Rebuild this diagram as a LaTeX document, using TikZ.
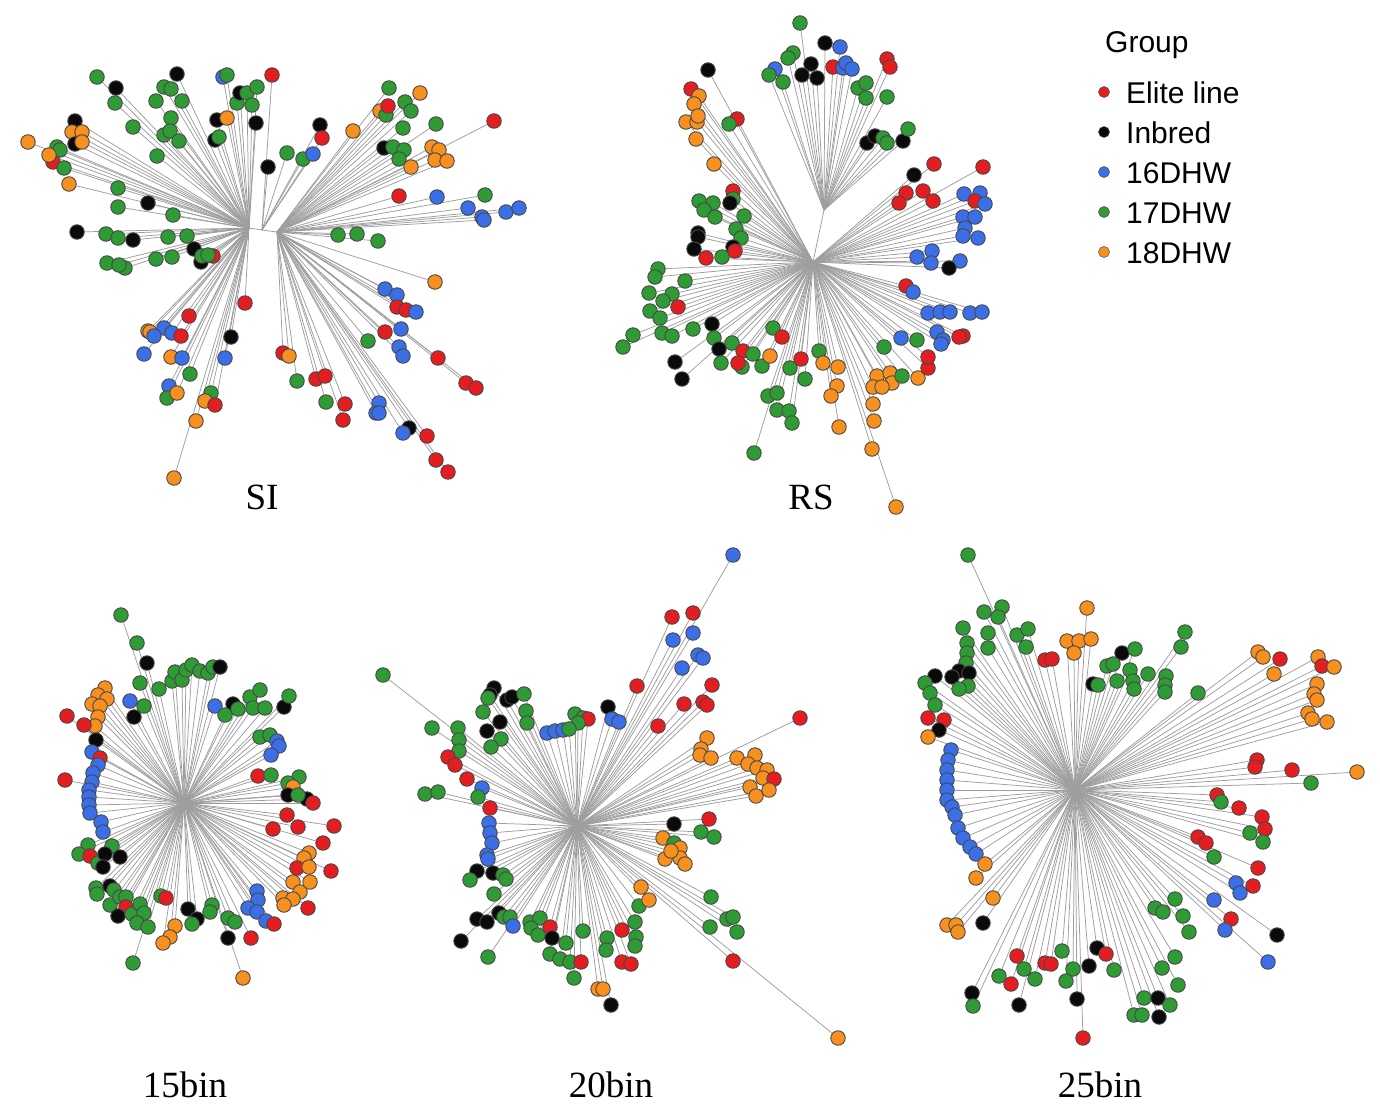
\documentclass[tikz,border=0pt]{standalone}
\usepackage{fontspec}
\setmainfont{Liberation Serif}
\newfontfamily\legfont{Liberation Sans}
\definecolor{cR}{HTML}{E41E20}
\definecolor{cK}{HTML}{0A0A0A}
\definecolor{cB}{HTML}{3A6FE8}
\definecolor{cG}{HTML}{2E9B34}
\definecolor{cO}{HTML}{F7901F}
\pgfdeclarelayer{bg}
\pgfsetlayers{bg,main}
\tikzset{
  leaf/.style={circle, draw=black!72, line width=0.9pt, fill=#1, minimum size=14.5pt, inner sep=0pt},
  legdot/.style={circle, draw=black!70, line width=0.5pt, fill=#1, minimum size=11pt, inner sep=0pt},
  branch/.style={draw=black!38, line width=0.75pt},
  lab/.style={font=\fontsize{37}{40}\selectfont, inner sep=0pt},
  legtxt/.style={font=\legfont\fontsize{30}{34}\selectfont, inner sep=0pt, anchor=base west}
}
\newcommand\leafset[3]{%
  \foreach \x/\y/\c [count=\i] in #3 {%
    \node[leaf=c\c] (#2\i) at (\x,\y) {};
  }
  \begin{pgfonlayer}{bg}
  \foreach \x/\y/\c [count=\i] in #3 {%
    \draw[branch] (#1) -- (#2\i);
  }
  \end{pgfonlayer}}
% ---------------- SI
\def\SIL{97/77/G, 116/88/K, 115/103/G, 177/74/K, 164/87/G, 171/89/G, 156/101/G, 182/101/G, 133/127/G, 171/118/G, 164/135/G, 170/131/G, 179/141/G, 157/156/G, 223/77/B, 227/75/G, 237/103/G, 240/93/K, 247/93/G, 257/87/G, 252/105/G, 217/120/K, 227/118/O, 256/123/K, 215/140/K, 219/137/G, 75/121/K, 72/132/O, 82/132/O, 75/144/K, 82/142/O, 28/142/O, 57/147/G, 60/150/G, 53/162/R, 49/155/O, 64/168/G, 69/184/O, 118/188/G, 118/207/G, 148/203/K, 173/215/G, 77/232/K, 106/234/G, 118/238/G, 133/240/K, 168/237/G, 187/236/G, 194/249/K, 201/262/K, 202/256/G, 213/256/R, 208/255/G, 107/263/G, 125/268/G, 119/265/G, 156/259/G, 172/257/G, 245/303/R, 189/316/R, 148/331/O, 150/332/O, 164/328/B, 172/333/B, 154/336/B, 181/336/R, 231/337/K, 144/354/B, 171/357/O, 182/358/B, 225/358/B, 190/374/G, 169/386/B, 167/398/G, 177/393/O, 211/393/G, 205/401/O, 215/405/R, 196/421/O, 174/478/O}
\def\SIM{272/75/R, 268/167/K, 287/153/G, 303/159/G, 313/154/B, 320/125/K, 322/138/R}
\def\SIR{389/88/G, 420/93/O, 405/102/G, 411/111/G, 380/111/O, 386/115/G, 388/106/R, 353/131/O, 403/128/G, 436/124/G, 494/121/R, 384/148/K, 393/147/G, 404/150/G, 399/159/G, 411/167/O, 432/147/O, 439/150/O, 435/160/O, 447/161/O, 399/196/R, 437/197/B, 485/195/G, 468/208/B, 482/217/B, 484/220/B, 506/212/B, 519/208/B, 338/235/G, 357/234/G, 378/241/G, 435/282/O, 385/289/B, 397/295/B, 397/307/R, 406/310/R, 416/312/B, 385/332/R, 401/329/B, 368/341/G, 399/347/B, 403/356/B, 438/358/R, 466/383/R, 476/388/R, 283/353/R, 289/356/O, 297/381/G, 316/379/R, 325/376/R, 326/402/G, 345/404/R, 343/420/R, 379/403/B, 376/413/B, 379/413/B, 409/428/K, 403/433/B, 427/436/R, 436/460/R, 448/472/R}
% ---------------- RS
\def\RST{800/23/G, 825/43/K, 840/47/B, 793/53/G, 788/58/G, 775/69/B, 769/75/G, 783/82/G, 811/64/K, 802/75/K, 817/78/K, 833/67/R, 843/68/B, 846/63/B, 852/69/B, 887/59/R, 890/67/R, 858/88/G, 866/83/G, 866/98/G, 887/97/G, 867/143/K, 875/136/K, 883/138/G, 887/143/G, 903/141/K, 908/129/G}
\def\RSC{708/70/K, 691/89/R, 699/96/O, 694/104/O, 686/122/O, 697/122/O, 698/116/O, 737/119/R, 729/124/G, 696/139/O, 714/164/O, 934/164/R, 914/175/K, 983/167/R, 906/193/R, 899/203/R, 923/191/R, 933/201/R, 964/194/B, 980/193/B, 975/201/R, 985/204/B, 963/217/B, 975/217/B, 965/228/B, 963/236/B, 978/238/B, 917/257/B, 932/251/B, 931/263/B, 960/261/B, 949/268/K, 733/191/R, 733/199/G, 730/203/K, 699/201/G, 713/203/G, 704/210/G, 715/217/G, 744/216/G, 736/229/G, 741/238/G, 698/233/K, 698/237/K, 694/249/K, 733/247/K, 735/251/R, 722/257/G, 706/258/R, 658/269/G, 655/277/G, 685/281/G, 649/293/G, 672/294/G, 663/301/G, 678/307/R, 650/311/G, 660/318/G, 633/335/G, 623/347/G, 662/333/G, 672/336/G, 693/329/G, 712/324/K, 714/338/G, 732/343/G, 719/349/K, 675/362/K, 682/379/K, 721/363/G, 743/351/R, 742/367/G, 738/363/R, 753/354/G, 762/366/G, 770/356/O, 773/328/G, 782/337/R, 790/368/G, 801/359/R, 805/379/G, 819/351/G, 823/363/O, 838/367/O, 837/386/O, 831/396/O, 839/427/O, 768/396/G, 777/393/G, 777/410/G, 789/411/G, 792/423/G, 754/453/G, 884/347/G, 877/376/O, 890/373/O, 873/387/O, 892/383/O, 882/387/O, 902/376/G, 918/378/O, 928/368/R, 928/357/R, 917/340/G, 901/338/B, 937/332/B, 943/340/B, 941/344/B, 963/336/R, 959/337/R, 928/313/B, 940/312/B, 950/312/B, 970/313/B, 982/312/B, 906/286/R, 913/292/B, 873/404/O, 874/421/O, 872/449/O, 896/507/O}
% ---------------- 15bin
\def\FA{121/615/G, 137/643/G, 147/663/K, 140/683/G, 130/701/B, 144/706/G, 134/717/K, 159/689/G, 172/681/G, 175/672/G, 182/680/G, 186/670/G, 192/665/G, 200/671/G, 208/673/G, 213/667/G, 220/667/K, 105/688/O, 98/695/O, 107/699/O, 92/704/O, 100/706/O, 98/717/O, 95/726/O, 67/716/R, 84/725/R, 96/740/K, 92/752/B, 100/758/R, 98/765/B, 93/773/B, 92/782/B, 65/780/R, 89/790/B, 89/797/B, 89/805/B, 90/813/B, 101/822/B, 103/832/B, 215/706/B, 233/704/K, 225/715/G, 238/709/G, 250/697/G, 260/690/G, 253/708/G, 265/708/G, 284/707/K, 289/696/G, 260/737/G, 270/735/G, 277/741/B, 279/746/B, 271/755/B, 258/776/R, 271/775/G, 299/777/G, 288/783/G, 293/787/O, 288/795/K, 307/799/K, 298/795/G, 313/803/R, 287/815/R, 273/829/R, 298/827/R, 334/826/R, 323/843/R, 309/853/O, 304/858/O, 297/868/R, 309/867/O, 331/871/R, 293/882/O, 310/882/O, 300/892/O, 283/898/O, 293/899/O, 284/905/O, 308/908/R, 88/845/G, 79/854/G, 90/856/R, 98/863/G, 112/846/G, 105/854/K, 120/857/K, 103/867/K, 96/888/G, 97/894/G, 110/886/K, 114/890/G, 110/905/G, 120/897/G, 126/897/G, 126/907/R, 118/916/K, 132/914/G, 140/904/G, 144/913/G, 137/923/G, 148/927/G, 133/963/G, 161/896/G, 166/898/R, 175/926/O, 170/937/O, 163/943/O, 188/909/K, 197/919/K, 192/924/G, 212/905/G, 210/912/G, 228/918/G, 235/922/G, 228/938/K, 243/978/O, 251/938/R, 257/891/B, 258/900/B, 248/908/B, 257/912/B, 266/921/B, 274/924/R}
% ---------------- 20bin
\def\TA{733/555/B, 672/617/R, 693/613/R, 673/640/B, 693/633/B, 698/655/B, 703/658/B, 682/668/B, 637/686/R, 712/685/R, 684/704/R, 703/702/R, 707/705/R, 658/726/R, 800/718/R, 707/738/O, 701/749/O, 700/755/O, 711/758/O, 737/758/O, 755/755/O, 748/764/O, 757/768/O, 767/770/O, 763/778/O, 774/779/R, 750/787/O, 756/796/O, 769/790/O, 608/707/K, 612/719/B, 619/722/B, 575/714/G, 583/718/G, 588/719/R, 578/723/G, 547/733/B, 555/731/B, 563/730/B, 569/729/G, 383/675/G, 494/688/K, 490/695/K, 488/698/G, 507/700/K, 512/697/K, 524/694/G, 483/712/G, 526/711/G, 527/723/G, 500/722/K, 487/731/K, 501/739/G, 491/747/G, 432/728/G, 458/728/G, 459/740/G, 459/751/G, 448/757/R, 455/765/R, 467/779/R, 482/788/B, 478/797/G, 425/794/G, 438/792/G, 490/808/R, 489/823/B, 490/833/B, 492/843/B, 487/855/B, 488/859/B, 477/871/K, 470/880/G, 493/873/K, 503/875/G, 506/879/G, 494/894/G, 477/919/K, 487/922/K, 461/941/K, 488/957/G, 499/913/K, 504/917/G, 510/917/G, 513/926/B, 530/922/G, 540/918/G, 550/927/R, 531/928/G, 538/935/G, 552/938/K, 566/943/G, 583/931/G, 550/954/G, 560/959/G, 570/962/G, 581/962/R, 574/978/G, 607/938/G, 606/950/G, 622/930/R, 622/962/R, 631/964/R, 598/989/O, 603/989/O, 611/1005/K, 635/922/G, 636/937/G, 635/946/G, 639/906/G, 641/887/O, 649/900/O, 663/838/O, 665/859/O, 674/843/G, 680/848/O, 680/858/O, 685/864/O, 671/851/O, 674/824/K, 709/819/R, 701/832/G, 714/837/G, 711/897/G, 727/919/G, 733/917/G, 737/932/G, 710/927/G, 733/961/R, 838/1038/O}
% ---------------- 25bin
\def\VA{968/555/G, 984/612/G, 1002/607/G, 998/617/G, 963/628/G, 988/633/G, 988/648/G, 1017/635/G, 1028/629/G, 1026/647/G, 967/643/G, 967/653/G, 966/663/G, 959/671/K, 952/677/K, 969/673/K, 968/686/G, 959/689/G, 935/676/K, 925/683/G, 930/693/G, 935/705/G, 928/718/R, 944/720/R, 939/730/K, 928/737/O, 1045/660/R, 1052/659/R, 1087/608/O, 1067/641/O, 1079/641/O, 1091/639/O, 1074/653/O, 1122/653/K, 1135/649/G, 1107/666/G, 1113/664/G, 1130/670/G, 1093/684/K, 1098/685/G, 1117/681/G, 1133/681/G, 1134/689/G, 1148/674/G, 1166/676/G, 1165/685/G, 1165/692/G, 1185/632/G, 1181/647/G, 1198/693/G, 1258/652/O, 1263/657/O, 1280/659/R, 1274/674/O, 1318/657/O, 1322/666/R, 1334/667/O, 1317/684/O, 1314/694/O, 1317/700/O, 1308/713/O, 1312/719/O, 1327/722/O, 1257/760/R, 1255/767/R, 1292/770/R, 1357/772/O, 1311/783/G, 951/750/B, 948/760/B, 947/770/B, 947/780/B, 947/790/B, 947/800/B, 952/807/B, 955/815/B, 958/828/B, 963/838/B, 970/847/B, 976/854/B, 985/864/O, 976/878/O, 993/898/O, 983/923/K, 947/925/O, 956/925/O, 958/932/O, 1217/795/R, 1221/802/G, 1239/808/R, 1262/817/R, 1265/829/R, 1250/833/G, 1263/842/G, 1198/837/R, 1206/843/R, 1214/857/G, 1258/868/R, 1236/883/B, 1253/886/R, 1240/893/B, 1214/900/B, 1231/919/R, 1225/930/B, 1277/935/K, 1268/962/B, 1175/899/G, 1155/908/G, 1163/912/G, 1183/916/G, 1189/932/G, 1175/957/G, 1162/968/G, 1178/985/G, 1144/998/G, 1158/998/K, 1170/1005/G, 1134/1015/G, 1142/1015/G, 1159/1017/K, 1017/956/R, 1045/963/R, 1051/964/R, 1062/951/G, 1024/969/G, 999/976/G, 1035/979/G, 1011/984/R, 1073/969/G, 1066/981/G, 1089/966/K, 1097/948/K, 1106/954/R, 1114/970/G, 972/993/K, 973/1006/G, 1019/1005/K, 1077/999/K, 1083/1038/R}
\begin{document}
\begin{tikzpicture}[x=1pt, y=-1pt]
\useasboundingbox (0,0) rectangle (1380,1114);
% hubs
\coordinate (siL) at (249,228);
\coordinate (siM) at (262,230);
\coordinate (siR) at (277,232);
\coordinate (rsC) at (813,262);
\coordinate (rsT) at (824,210);
\coordinate (fC) at (184,803);
\coordinate (tC) at (577,826);
\coordinate (vC) at (1075,790);
\begin{pgfonlayer}{bg}
\fill[white] (0,0) rectangle (1380,1114);
\draw[branch] (siL) -- (siM) -- (siR);
\draw[branch] (rsC) -- (rsT);
\end{pgfonlayer}
\leafset{siL}{sl}{\SIL}
\leafset{siM}{sm}{\SIM}
\leafset{siR}{sr}{\SIR}
\leafset{rsT}{rt}{\RST}
\leafset{rsC}{rc}{\RSC}
\leafset{fC}{fa}{\FA}
\leafset{tC}{ta}{\TA}
\leafset{vC}{va}{\VA}
% panel labels
\node[lab] (labSI) at (262,497) {SI};
\node[lab] (labRS) at (811,497) {RS};
\node[lab] (lab15) at (185,1085) {15bin};
\node[lab] (lab20) at (611,1085) {20bin};
\node[lab] (lab25) at (1100,1085) {25bin};
% legend
\node[legtxt] (legT) at (1105,52) {Group};
\foreach \c/\t [count=\i] in {R/Elite line, K/Inbred, B/16DHW, G/17DHW, O/18DHW} {
  \node[legdot=c\c] (ld\i) at (1104,52+40*\i) {};
  \node[legtxt] (lt\i) at (1126,63+40*\i) {\t};
}
\end{tikzpicture}
\end{document}
